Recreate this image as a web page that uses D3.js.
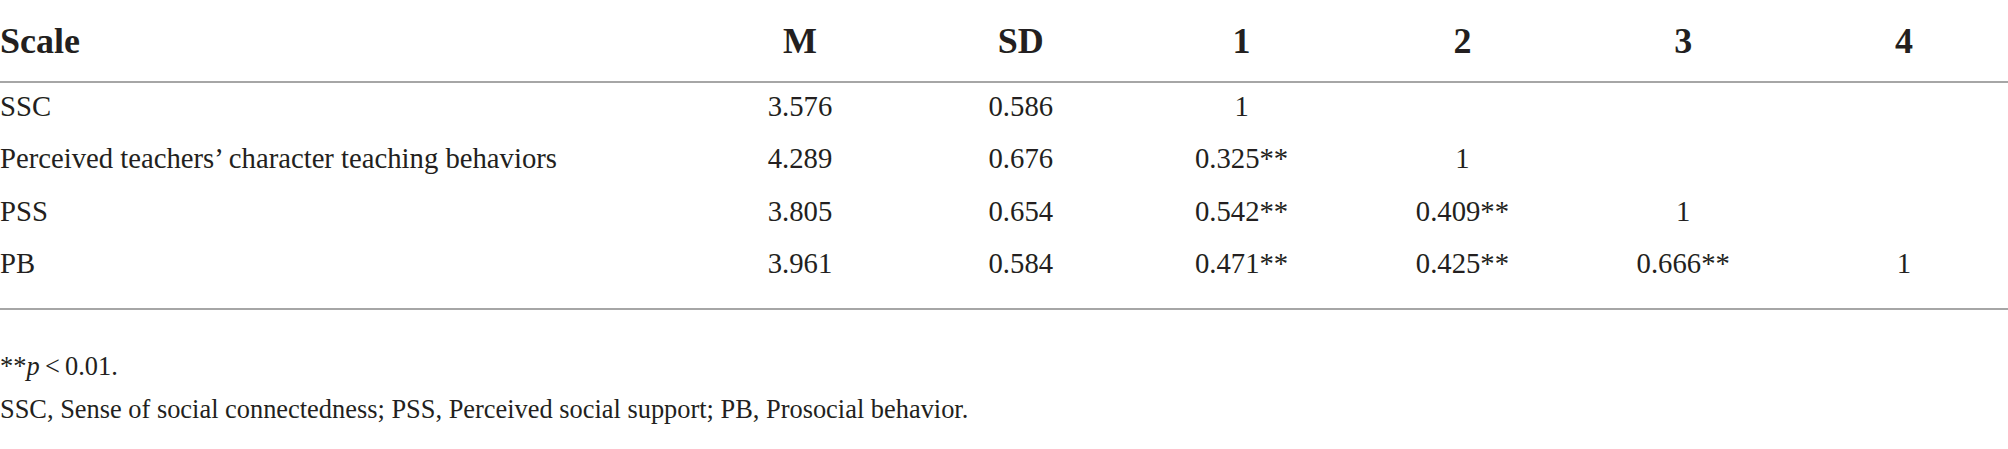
<!DOCTYPE html>
<html>
<head>
<meta charset="utf-8">
<script src="https://cdn.jsdelivr.net/npm/d3@7"></script>
<style>
  html, body { margin: 0; padding: 0; background: #fff; }
  svg { display: block; }
</style>
</head>
<body>
<script>
// table content
const columns = ['M', 'SD', '1', '2', '3', '4'];
const scales = ['SSC', 'Perceived teachers\u2019 character teaching behaviors', 'PSS', 'PB'];
const means = ['3.576', '4.289', '3.805', '3.961'];
const sds = ['0.586', '0.676', '0.654', '0.584'];
// lower triangle of the correlation matrix, row by row
const corr = [
  ['1'],
  ['0.325**', '1'],
  ['0.542**', '0.409**', '1'],
  ['0.471**', '0.425**', '0.666**', '1']
];
const noteSig = ['**', 'p', '\u2009<\u20090.01.'];
const noteAbbr = 'SSC, Sense of social connectedness; PSS, Perceived social support; PB, Prosocial behavior.';

const width = 2008, height = 449;
const font = '"Liberation Serif", "DejaVu Serif", serif';
const ink = '#231f20';
const rule = '#a6a6a6';

const svg = d3.select('body').append('svg')
  .attr('width', width)
  .attr('height', height);

// column centres and row baselines
const x = d3.scalePoint().domain(columns).range([800, 1904]);
const y = d3.scalePoint().domain(scales).range([116, 273]);

// header row
const head = svg.append('g')
  .attr('font-family', font)
  .attr('font-weight', 'bold')
  .attr('font-size', 36)
  .attr('fill', ink);
head.append('text').attr('x', 0).attr('y', 53).text('Scale');
head.selectAll('text.col')
  .data(columns)
  .join('text')
    .attr('class', 'col')
    .attr('x', d => x(d))
    .attr('y', 53)
    .attr('text-anchor', 'middle')
    .text(d => d);

// rules above and below the body
svg.selectAll('line.rule')
  .data([82, 309])
  .join('line')
    .attr('class', 'rule')
    .attr('x1', 0).attr('x2', width)
    .attr('y1', d => d).attr('y2', d => d)
    .attr('stroke', rule)
    .attr('stroke-width', 2);

// body rows
const body = svg.append('g')
  .attr('font-family', font)
  .attr('font-size', 28.7)
  .attr('fill', ink);

const rows = body.selectAll('g.row')
  .data(scales.map((s, i) => ({ scale: s, cells: [means[i], sds[i], ...corr[i]] })))
  .join('g')
    .attr('class', 'row')
    .attr('transform', d => `translate(0, ${y(d.scale)})`);

rows.append('text')
  .attr('x', 0)
  .text(d => d.scale);

rows.selectAll('text.cell')
  .data(d => d.cells)
  .join('text')
    .attr('class', 'cell')
    .attr('x', (d, i) => x(columns[i]))
    .attr('text-anchor', 'middle')
    .text(d => d);

// footnotes
const notes = svg.append('g')
  .attr('font-family', font)
  .attr('font-size', 26.4)
  .attr('fill', ink);

notes.append('text')
  .attr('x', 0)
  .attr('y', 375)
  .selectAll('tspan')
  .data(noteSig)
  .join('tspan')
    .attr('font-style', (d, i) => i === 1 ? 'italic' : null)
    .text(d => d);

notes.append('text')
  .attr('x', 0)
  .attr('y', 418)
  .text(noteAbbr);
</script>
</body>
</html>
